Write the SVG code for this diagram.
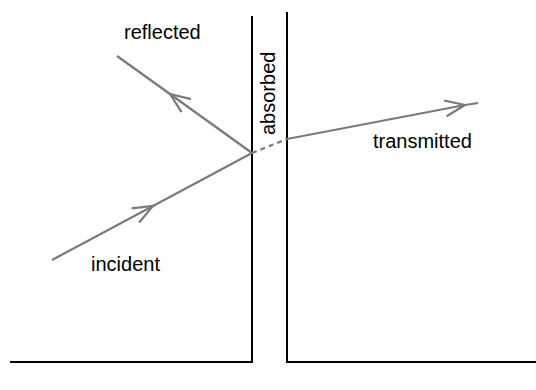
<svg xmlns="http://www.w3.org/2000/svg" width="536" height="390" viewBox="0 0 536 390">
<defs>
<marker id="chev" markerUnits="userSpaceOnUse" markerWidth="30" markerHeight="30" viewBox="-25 -15 30 30" refX="0" refY="0" orient="auto" overflow="visible">
<path d="M-20,-8 L0,0 L-20,8" fill="none" stroke="#7a7a7a" stroke-width="2.2" stroke-linejoin="miter"/>
</marker>
</defs>
<style>
.wall{fill:none;stroke:#000;stroke-width:2}
.ray{fill:none;stroke:#7a7a7a;stroke-width:2.2;marker-mid:url(#chev)}
.dash{fill:none;stroke:#7a7a7a;stroke-width:2.2;stroke-dasharray:5 4}
.lbl{font-family:"Liberation Sans",Arial,sans-serif;font-size:20px;fill:#000}
</style>
<rect width="536" height="390" fill="#fff"/>
<g id="walls">
<path class="wall" d="M252,16 V362 H10"/>
<path class="wall" d="M287,12 V362 H536"/>
</g>
<g id="connectors">
<polyline id="incident-ray" class="ray" points="52,260 153,206 252,153"/>
<polyline id="reflected-ray" class="ray" points="252,153 170,94 117,56"/>
<line id="absorbed-ray" class="dash" x1="252" y1="153" x2="287" y2="139"/>
<polyline id="transmitted-ray" class="ray" points="287,139 465,105 478,103"/>
</g>
<g id="labels">
<text class="lbl" x="124" y="39">reflected</text>
<text class="lbl" x="91" y="271">incident</text>
<text class="lbl" x="373" y="148">transmitted</text>
<text class="lbl" transform="translate(275,135) rotate(-90)">absorbed</text>
</g>
</svg>
